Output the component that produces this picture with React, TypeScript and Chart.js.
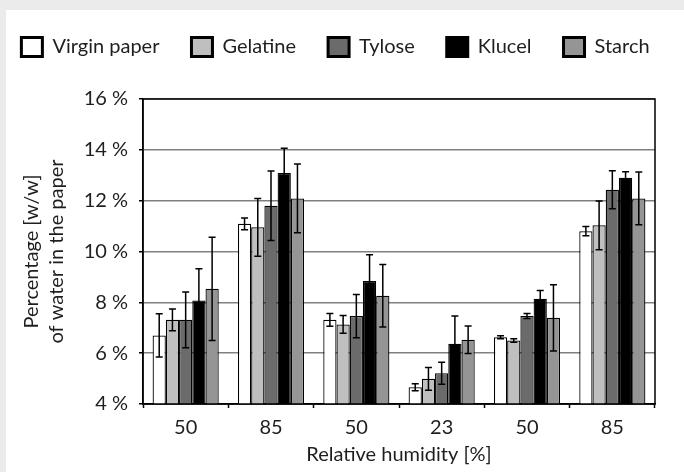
import React, { useEffect, useRef } from "react";
import { Chart, registerables } from "chart.js";

Chart.register(...registerables);

const categories = ["50", "85", "50", "23", "50", "85"];
const seriesNames = ["Virgin paper", "Gelatine", "Tylose", "Klucel", "Starch"];
const virginPaper = [6.7, 11.09, 7.31, 4.66, 6.63, 10.8];
const gelatine = [7.31, 10.95, 7.13, 4.99, 6.5, 11.03];
const tylose = [7.31, 11.8, 7.46, 5.21, 7.46, 12.43];
const klucel = [8.07, 13.09, 8.84, 6.37, 8.14, 12.9];
const starch = [8.53, 12.09, 8.26, 6.53, 7.39, 12.09];
const virginErr = [0.85, 0.23, 0.25, 0.14, 0.06, 0.18];
const gelatineErr = [0.43, 1.14, 0.35, 0.45, 0.07, 0.96];
const tyloseErr = [1.1, 1.37, 0.85, 0.43, 0.1, 0.75];
const klucelErr = [1.25, 0.97, 1.03, 1.09, 0.33, 0.24];
const starchErr = [2.03, 1.35, 1.23, 0.54, 1.3, 1.04];
const yTicks = [4, 6, 8, 10, 12, 14, 16];

const seriesValues = [virginPaper, gelatine, tylose, klucel, starch];
const seriesErrors = [virginErr, gelatineErr, tyloseErr, klucelErr, starchErr];
const seriesColors = ["#ffffff", "#bfbfbf", "#6b6b6b", "#000000", "#959595"];

const errorBarPlugin = {
  id: "errorBars",
  afterDatasetsDraw(chart: any) {
    const ctx = chart.ctx;
    const y = chart.scales.y;
    ctx.save();
    ctx.strokeStyle = "#000";
    ctx.lineWidth = 1.5;
    chart.data.datasets.forEach((ds: any, i: number) => {
      const meta = chart.getDatasetMeta(i);
      meta.data.forEach((el: any, j: number) => {
        const v = ds.data[j];
        const e = ds.errors[j];
        const top = y.getPixelForValue(v + e);
        const bot = y.getPixelForValue(v - e);
        const x = el.x;
        const cap = 3.5;
        ctx.beginPath();
        ctx.moveTo(x, top);
        ctx.lineTo(x, bot);
        ctx.moveTo(x - cap, top);
        ctx.lineTo(x + cap, top);
        ctx.moveTo(x - cap, bot);
        ctx.lineTo(x + cap, bot);
        ctx.stroke();
      });
    });
    ctx.restore();
  },
};

const framePlugin = {
  id: "frame",
  afterDatasetsDraw(chart: any) {
    const { ctx, chartArea } = chart;
    ctx.save();
    ctx.strokeStyle = "#000";
    ctx.lineWidth = 1.5;
    ctx.strokeRect(chartArea.left, chartArea.top, chartArea.right - chartArea.left, chartArea.bottom - chartArea.top);
    ctx.restore();
  },
};

const legendPlacePlugin = {
  id: "legendPlace",
  beforeInit(chart: any) {
    const orig = chart.legend.fit;
    chart.legend.fit = function () {
      this.maxWidth = 2000;
      orig.bind(chart.legend)();
      this.height = 89;
    };
  },
  afterLayout(chart: any) {
    const lg = chart.legend;
    lg.left = -40;
    lg.right = 699;
    lg.width = lg.right - lg.left;
    lg.top = -5;
  },
};

export default function App() {
  const ref = useRef<HTMLCanvasElement>(null);
  useEffect(() => {
    if (!ref.current) return;
    Chart.defaults.font.family = "Lato";
    Chart.defaults.color = "#1e1e1e";
    const chart = new Chart(ref.current, {
      type: "bar",
      data: {
        labels: categories,
        datasets: seriesNames.map((name, i) => ({
          label: name,
          data: seriesValues[i],
          errors: seriesErrors[i],
          backgroundColor: seriesColors[i],
          borderColor: "#000",
          borderWidth: 1.25,
          barPercentage: 1,
          categoryPercentage: 0.775,
        })) as any,
      },
      options: {
        animation: false,
        responsive: false,
        devicePixelRatio: 1,
        layout: { padding: { left: 0, right: 29, top: 0, bottom: 0 } },
        plugins: {
          tooltip: { enabled: false },
          legend: {
            position: "top",
            labels: {
              font: { size: 20 },
              boxWidth: 21,
              boxHeight: 19,
              padding: 32,
              color: "#1e1e1e",
              generateLabels(chart: any) {
                const items = Chart.defaults.plugins.legend.labels.generateLabels(chart);
                return items.map((it: any) => ({ ...it, lineWidth: 3, strokeStyle: "#000" }));
              },
            },
          },
        },
        scales: {
          x: {
            offset: true,
            grid: {
              display: true,
              drawOnChartArea: false,
              drawTicks: true,
              tickLength: 4,
              tickColor: "#000",
              tickWidth: 1.5,
              offset: true,
            },
            border: { color: "#000", width: 1.5 },
            ticks: { font: { size: 20 }, padding: 8, color: "#1e1e1e" },
            title: {
              display: true,
              text: "Relative humidity [%]",
              font: { size: 20, lineHeight: 1.2 },
              padding: { top: 0, bottom: 5 },
              color: "#1e1e1e",
            },
            afterFit(scale: any) {
              scale.height = 68;
            },
          },
          y: {
            min: 4,
            max: 16,
            afterBuildTicks(scale: any) {
              scale.ticks = yTicks.map((v) => ({ value: v }));
            },
            grid: {
              color: "#808080",
              lineWidth: 1.5,
              drawTicks: true,
              tickLength: 4,
              tickColor: "#000",
              tickWidth: 1.5,
            },
            border: { color: "#000", width: 1.5 },
            ticks: {
              font: { size: 20 },
              padding: 11,
              color: "#1e1e1e",
              callback: (v: any) => v + " %",
            },
            title: {
              display: true,
              text: ["Percentage [w/w]", "of water in the paper"],
              font: { size: 20, lineHeight: 1.25 },
              padding: { top: 13, bottom: 0 },
              color: "#1e1e1e",
            },
            afterFit(scale: any) {
              scale.width = 137;
            },
          },
        },
      },
      plugins: [errorBarPlugin, framePlugin, legendPlacePlugin],
    });
    return () => chart.destroy();
  }, []);

  return (
    <div style={{ position: "fixed", left: 0, top: 0, width: 684, height: 472, background: "#ebebeb", overflow: "hidden" }}>
      <div style={{ position: "absolute", left: 6, top: 10, width: 678, height: 462, background: "#fff" }}>
        <canvas ref={ref} width={678} height={462} style={{ display: "block", width: 678, height: 462 }} />
      </div>
    </div>
  );
}
